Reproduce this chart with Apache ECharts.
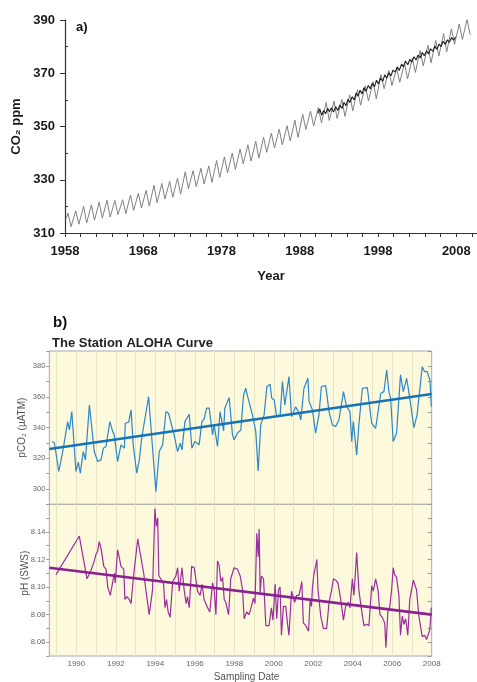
<!DOCTYPE html>
<html><head><meta charset="utf-8">
<script src="https://cdn.jsdelivr.net/npm/echarts@6/dist/echarts.min.js"></script>
<style>html,body{margin:0;padding:0;background:#fff}#c{width:477px;height:682px}</style>
</head><body><div id="c"></div><script>
// ---------- Panel a: Mauna Loa monthly record (May maximum / Oct minimum of each year) ----------
const mloStartYear = 1958;
const mloFirstPoint = [1958.2, 315.7];
const mloMay = [317.5,318.3,320.0,320.6,321.6,322.3,322.2,322.5,324.3,324.9,326.0,327.9,328.6,329.4,330.6,333.0,333.4,334.3,335.2,337.2,338.6,340.0,341.5,343.1,344.5,346.0,347.5,349.0,350.3,352.4,354.6,355.8,357.1,359.0,359.5,360.1,361.9,363.8,365.3,366.8,369.5,371.0,371.8,373.8,375.6,378.5,380.5,382.3,384.9,386.7,388.5,390.2];
const mloOct = [312.4,313.3,313.8,314.8,315.6,316.0,316.9,317.3,318.5,319.4,320.1,321.4,322.8,323.4,324.6,326.6,327.4,328.4,329.0,330.9,332.6,333.9,336.0,337.0,338.1,340.3,341.9,343.1,344.6,345.9,348.9,350.2,351.4,352.3,353.0,353.8,355.9,358.0,359.6,360.4,364.2,365.4,366.6,367.9,370.3,372.7,373.9,376.5,378.0,380.9,382.7,384.4];
// Station ALOHA atmospheric CO2 (dark line)
const airYears = [1990.3,1990.55,1990.8,1991.05,1991.3,1991.55,1991.8,1992.05,1992.3,1992.6,1992.85,1993.1,1993.4,1993.65,1993.9,1994.15,1994.4,1994.7,1994.95,1995.2,1995.45,1995.7,1995.95,1996.2,1996.45,1996.75,1997.0,1997.25,1997.55,1997.8,1998.05,1998.3,1998.6,1998.85,1999.1,1999.4,1999.65,1999.9,2000.2,2000.45,2000.7,2001.0,2001.25,2001.5,2001.8,2002.05,2002.3,2002.6,2002.85,2003.1,2003.4,2003.65,2003.9,2004.2,2004.45,2004.7,2005.0,2005.25,2005.5,2005.8,2006.05,2006.3,2006.6,2006.85,2007.1,2007.4,2007.65,2007.9];
const airCO2 = [355.0,356.6,354.2,356.0,354.8,356.8,355.6,357.0,355.4,357.4,356.0,358.0,356.8,359.0,357.8,360.2,359.0,361.2,360.0,362.6,361.4,363.6,362.2,364.6,363.2,365.4,364.2,366.2,365.0,367.4,366.0,368.2,367.0,369.4,368.2,370.2,369.0,371.2,370.4,372.4,371.0,373.4,372.4,374.6,373.2,375.2,374.2,376.2,375.0,376.8,375.8,377.8,376.6,378.4,377.2,379.2,378.2,380.2,379.0,381.0,380.0,382.0,380.8,382.6,381.6,383.4,382.4,383.6];
const aYearLabels = [1958,1968,1978,1988,1998,2008];
const aMinorY = [320,340,360,380];

// ---------- Panel b: Station ALOHA seawater pCO2 and pH ----------
const pco2Years = [1988.77,1988.89,1989.11,1989.31,1989.56,1989.65,1989.77,1989.98,1990.10,1990.20,1990.35,1990.46,1990.66,1990.91,1991.08,1991.25,1991.37,1991.50,1991.70,1991.84,1991.92,1992.09,1992.26,1992.43,1992.48,1992.65,1992.77,1992.88,1993.06,1993.19,1993.31,1993.39,1993.66,1994.03,1994.20,1994.37,1994.54,1994.67,1994.75,1994.93,1995.13,1995.26,1995.35,1995.50,1995.60,1995.72,1995.85,1996.00,1996.22,1996.36,1996.47,1996.60,1996.73,1996.90,1996.98,1997.15,1997.28,1997.46,1997.52,1997.74,1997.91,1997.99,1998.16,1998.33,1998.47,1998.58,1998.70,1998.80,1998.92,1999.09,1999.21,1999.34,1999.51,1999.65,1999.81,1999.90,2000.02,2000.15,2000.32,2000.44,2000.56,2000.66,2000.77,2000.90,2001.11,2001.28,2001.37,2001.45,2001.53,2001.73,2001.79,2001.87,2001.96,2002.12,2002.29,2002.41,2002.63,2002.80,2002.97,2003.14,2003.30,2003.53,2003.69,2003.86,2003.95,2004.03,2004.20,2004.31,2004.49,2004.74,2004.96,2005.16,2005.42,2005.58,2005.72,2005.83,2005.92,2006.05,2006.22,2006.42,2006.56,2006.73,2006.84,2007.10,2007.26,2007.52,2007.64,2007.77,2007.91,2007.98];
const pco2Values = [330.9,330.0,311.4,324.4,343.9,338.5,350.5,311.4,317.5,310.3,324.4,319.0,354.8,324.4,317.9,319.0,326.6,327.7,343.9,337.4,335.3,317.9,328.8,326.6,342.9,343.5,351.6,328.8,310.3,319.0,333.1,332.0,360.2,298.3,324.4,328.8,350.5,349.4,349.4,336.4,324.4,329.9,325.5,343.9,344.5,348.7,326.6,330.9,328.8,343.9,345.7,352.7,352.7,335.3,341.8,327.7,350.5,337.9,352.7,359.6,335.3,332.0,336.4,338.5,361.3,365.7,359.2,360.0,348.3,337.4,311.8,341.8,348.3,366.7,368.3,359.2,358.1,347.2,347.7,370.0,354.8,355.9,373.3,347.2,353.7,349.4,345.0,343.9,365.7,372.2,357.0,358.0,351.6,336.4,348.3,366.7,367.4,350.5,341.8,340.7,345.0,363.5,353.7,350.5,330.9,343.9,322.2,341.8,365.7,366.1,342.9,339.6,362.4,363.5,377.6,363.5,359.2,330.9,336.4,374.4,363.5,372.2,363.5,340.0,348.3,379.8,376.5,376.5,371.1,353.7];
const phYears = [1988.97,1990.15,1990.54,1990.74,1990.91,1991.00,1991.08,1991.16,1991.25,1991.39,1991.50,1991.59,1991.72,1991.81,1991.92,1991.97,1992.09,1992.18,1992.26,1992.40,1992.46,1992.56,1992.68,1992.77,1992.90,1993.11,1993.41,1993.69,1993.86,1993.98,1994.05,1994.12,1994.18,1994.28,1994.42,1994.49,1994.57,1994.65,1994.75,1994.88,1995.04,1995.13,1995.21,1995.35,1995.46,1995.56,1995.63,1995.72,1995.84,1995.97,1996.14,1996.27,1996.37,1996.47,1996.65,1996.76,1996.90,1996.98,1997.07,1997.15,1997.23,1997.32,1997.41,1997.49,1997.57,1997.71,1997.82,1997.99,1998.16,1998.30,1998.42,1998.50,1998.63,1998.75,1998.87,1998.97,1999.05,1999.14,1999.21,1999.26,1999.31,1999.38,1999.48,1999.60,1999.76,1999.88,1999.96,2000.07,2000.15,2000.24,2000.32,2000.39,2000.49,2000.61,2000.69,2000.77,2000.90,2001.00,2001.06,2001.16,2001.28,2001.42,2001.50,2001.62,2001.76,2001.84,2001.91,2001.96,2002.04,2002.12,2002.18,2002.24,2002.38,2002.51,2002.68,2002.80,2002.92,2003.02,2003.14,2003.25,2003.39,2003.53,2003.64,2003.76,2003.86,2003.98,2004.06,2004.20,2004.31,2004.44,2004.57,2004.70,2004.82,2004.96,2005.04,2005.16,2005.28,2005.38,2005.50,2005.62,2005.68,2005.78,2005.88,2005.97,2006.05,2006.12,2006.22,2006.34,2006.42,2006.51,2006.59,2006.68,2006.79,2006.89,2007.07,2007.23,2007.35,2007.52,2007.64,2007.74,2007.86,2007.91,2007.98];
const phValues = [8.109,8.137,8.106,8.112,8.119,8.124,8.126,8.133,8.128,8.115,8.113,8.100,8.094,8.093,8.110,8.103,8.127,8.121,8.115,8.113,8.091,8.093,8.091,8.088,8.108,8.135,8.110,8.080,8.098,8.157,8.144,8.150,8.108,8.106,8.102,8.085,8.091,8.082,8.078,8.104,8.108,8.114,8.097,8.114,8.098,8.088,8.093,8.085,8.115,8.114,8.097,8.094,8.102,8.091,8.085,8.082,8.103,8.098,8.080,8.119,8.116,8.104,8.107,8.091,8.089,8.080,8.106,8.114,8.113,8.108,8.098,8.077,8.082,8.080,8.086,8.092,8.088,8.139,8.122,8.142,8.096,8.108,8.106,8.072,8.072,8.085,8.076,8.102,8.077,8.098,8.100,8.065,8.086,8.086,8.074,8.065,8.097,8.097,8.089,8.094,8.094,8.104,8.074,8.072,8.068,8.090,8.086,8.100,8.110,8.115,8.120,8.098,8.079,8.070,8.070,8.089,8.097,8.106,8.105,8.103,8.091,8.076,8.086,8.089,8.085,8.106,8.094,8.125,8.098,8.084,8.072,8.073,8.072,8.101,8.097,8.106,8.098,8.080,8.078,8.074,8.056,8.082,8.086,8.098,8.114,8.109,8.107,8.094,8.065,8.079,8.073,8.077,8.065,8.091,8.105,8.098,8.079,8.064,8.065,8.062,8.067,8.070,8.085];
const trendYears = [1988.63, 2008.0];
const pco2Trend = [326.1, 361.9];
const phTrend = [8.114, 8.080];
const bGridYears = [1989,1990,1991,1992,1993,1994,1995,1996,1997,1998,1999,2000,2001,2002,2003,2004,2005,2006,2007];
const bYearLabels = [1990,1992,1994,1996,1998,2000,2002,2004,2006,2008];

// ---------- build ----------
const mloData = [mloFirstPoint];
mloMay.forEach((v, i) => { mloData.push([mloStartYear + i + 0.37, v]); mloData.push([mloStartYear + i + 0.77, mloOct[i]]); });
const zip = (xs, ys) => xs.map((x, i) => [x, ys[i]]);

const FF = 'Liberation Sans, Arial, Helvetica, DejaVu Sans, sans-serif';
const AX = '#333';
const BT = '#666';

const chart = echarts.init(document.getElementById('c'), null, {renderer: 'canvas'});
chart.setOption({
  animation: false,
  backgroundColor: '#fff',
  textStyle: {fontFamily: FF},
  title: [
    {text: 'a)', left: 71, top: 16, textStyle: {fontSize: 13, fontWeight: 'bold', color: '#111', fontFamily: FF}},
    {text: 'b)', left: 48, top: 310, textStyle: {fontSize: 15, fontWeight: 'bold', color: '#111', fontFamily: FF}},
    {text: 'The Station ALOHA Curve', left: 47, top: 332, textStyle: {fontSize: 13, fontWeight: 'bold', color: '#222', fontFamily: FF}}
  ],
  grid: [
    {left: 65, top: 20, width: 412, height: 213, outerBoundsMode: 'none', containLabel: false},
    {left: 49.3, top: 351, width: 382.4, height: 153.3, show: true, backgroundColor: '#fdf9dd', borderColor: '#a8a8a8', borderWidth: 1, outerBoundsMode: 'none', containLabel: false},
    {left: 49.3, top: 504.3, width: 382.4, height: 151.7, show: true, backgroundColor: '#fdf9dd', borderColor: '#a8a8a8', borderWidth: 1, outerBoundsMode: 'none', containLabel: false}
  ],
  xAxis: [
    {gridIndex: 0, type: 'value', min: 1958, max: 2010.64, interval: 2,
     axisLine: {show: true, lineStyle: {color: AX, width: 1.2}},
     axisTick: {show: true, length: 4, lineStyle: {color: AX, width: 1}},
     axisLabel: {margin: 12, fontSize: 13, fontWeight: 'bold', color: '#1a1a1a', fontFamily: FF,
       formatter: v => (Math.abs(v - Math.round(v)) < 1e-6 && aYearLabels.indexOf(Math.round(v)) >= 0) ? String(Math.round(v)) : ''},
     splitLine: {show: false},
     name: 'Year', nameLocation: 'middle', nameGap: 37, nameMoveOverlap: false,
     nameTextStyle: {fontSize: 13, fontWeight: 'bold', color: '#1a1a1a', fontFamily: FF, verticalAlign: 'top'}},
    {gridIndex: 1, type: 'value', min: 1988.63, max: 2008,
     axisLine: {show: false},
     axisTick: {show: false, customValues: bGridYears},
     axisLabel: {show: false},
     splitLine: {show: true, lineStyle: {color: '#e8e3c3', width: 1}}},
    {gridIndex: 2, type: 'value', min: 1988.63, max: 2008,
     axisLine: {show: false},
     axisTick: {show: false, customValues: bGridYears},
     axisLabel: {show: true, customValues: bYearLabels, fontSize: 8, color: BT, margin: 4, fontFamily: FF,
       formatter: v => String(Math.round(v))},
     splitLine: {show: true, lineStyle: {color: '#e8e3c3', width: 1}},
     name: 'Sampling Date', nameLocation: 'middle', nameGap: 16, nameMoveOverlap: false,
     nameTextStyle: {fontSize: 10, color: '#555', fontFamily: FF, verticalAlign: 'top', padding: [0, 0, 0, 12]}}
  ],
  yAxis: [
    {gridIndex: 0, type: 'value', position: 'left', min: 310, max: 390, interval: 20,
     axisLine: {show: true, lineStyle: {color: AX, width: 1.2}},
     axisTick: {show: true, length: 5, lineStyle: {color: AX}},
     axisLabel: {margin: 10, fontSize: 13, fontWeight: 'bold', color: '#1a1a1a', fontFamily: FF},
     splitLine: {show: false},
     name: 'CO\u2082 ppm', nameLocation: 'middle', nameGap: 42, nameMoveOverlap: false,
     nameTextStyle: {fontSize: 13, fontWeight: 'bold', color: '#1a1a1a', fontFamily: FF}},
    {gridIndex: 0, type: 'value', position: 'left', min: 310, max: 390,
     axisLine: {show: false}, axisLabel: {show: false}, splitLine: {show: false},
     axisTick: {show: true, inside: true, length: 3, customValues: aMinorY, lineStyle: {color: AX}}},
    {gridIndex: 1, type: 'value', position: 'left', min: 290, max: 390, interval: 10,
     axisLine: {show: false},
     axisTick: {show: true, length: 3, lineStyle: {color: '#999'}},
     axisLabel: {margin: 4, fontSize: 7.5, color: BT, fontFamily: FF,
       formatter: v => (Math.round(v) % 20 === 0 && v < 389) ? String(Math.round(v)) : ''},
     splitLine: {show: false},
     name: 'pCO\u2082 (\u00b5ATM)', nameLocation: 'middle', nameGap: 22, nameMoveOverlap: false,
     nameTextStyle: {fontSize: 10, color: '#555', fontFamily: FF}},
    {gridIndex: 1, type: 'value', position: 'right', min: 290, max: 390, interval: 10,
     axisLine: {show: false}, axisLabel: {show: false}, splitLine: {show: false},
     axisTick: {show: true, inside: true, length: 4, lineStyle: {color: '#999'}}},
    {gridIndex: 2, type: 'value', position: 'left', min: 8.05, max: 8.16, interval: 0.01,
     axisLine: {show: false},
     axisTick: {show: true, length: 3, lineStyle: {color: '#999'}},
     axisLabel: {margin: 4, fontSize: 7.5, color: BT, fontFamily: FF,
       formatter: v => { const r = Math.round(v * 100); return (r % 2 === 0 && r < 816) ? (r / 100).toFixed(2) : ''; }},
     splitLine: {show: false},
     name: 'pH (SWS)', nameLocation: 'middle', nameGap: 19, nameMoveOverlap: false,
     nameTextStyle: {fontSize: 10, color: '#555', fontFamily: FF, padding: [0, 0, 0, 14]}},
    {gridIndex: 2, type: 'value', position: 'right', min: 8.05, max: 8.16, interval: 0.01,
     axisLine: {show: false}, axisLabel: {show: false}, splitLine: {show: false},
     axisTick: {show: true, inside: true, length: 4, lineStyle: {color: '#999'}}}
  ],
  series: [
    {type: 'line', xAxisIndex: 0, yAxisIndex: 0, data: mloData, showSymbol: false, symbol: 'none',
     lineStyle: {color: '#808080', width: 1}, z: 2},
    {type: 'line', xAxisIndex: 0, yAxisIndex: 0, data: zip(airYears, airCO2), showSymbol: false, symbol: 'none',
     lineStyle: {color: '#1c1c1c', width: 1.1}, z: 3},
    {type: 'line', xAxisIndex: 1, yAxisIndex: 2, data: zip(pco2Years, pco2Values), showSymbol: false, symbol: 'none',
     lineStyle: {color: '#2d87c8', width: 1.2}, z: 3},
    {type: 'line', xAxisIndex: 1, yAxisIndex: 2, data: zip(trendYears, pco2Trend), showSymbol: false, symbol: 'none',
     lineStyle: {color: '#1673b8', width: 2.6}, z: 4},
    {type: 'line', xAxisIndex: 2, yAxisIndex: 4, data: zip(phYears, phValues), showSymbol: false, symbol: 'none',
     lineStyle: {color: '#9b2d9f', width: 1.2}, z: 3},
    {type: 'line', xAxisIndex: 2, yAxisIndex: 4, data: zip(trendYears, phTrend), showSymbol: false, symbol: 'none',
     lineStyle: {color: '#8a2192', width: 2.6}, z: 4}
  ]
});
</script></body></html>
